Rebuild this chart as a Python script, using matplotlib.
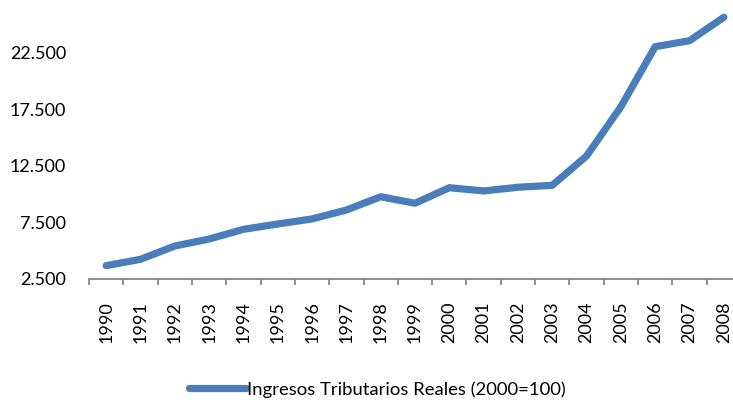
import matplotlib
matplotlib.use("Agg")
import matplotlib.pyplot as plt
import numpy as np
from matplotlib.ticker import FixedLocator, FuncFormatter

# --- data ---
years = [str(y) for y in range(1990, 2009)]
ingresos = [3640, 4200, 5380, 6000, 6860, 7330, 7780, 8570, 9750, 9170,
            10550, 10260, 10590, 10760, 13360, 17730, 23050, 23580, 25660]
y_ticks = [2500, 7500, 12500, 17500, 22500]
series_label = "Ingresos Tributarios Reales (2000=100)"

plt.rcParams['font.family'] = ['Lato', 'DejaVu Sans']

W, H = 733, 400
fig = plt.figure(figsize=(W / 100, H / 100), dpi=100)

# plot area runs a little past the right and top edges, as in the reference
left, right = 89, 741
bottom, top = 278.5, -3.5
ax = fig.add_axes([left / W, (H - bottom) / H, (right - left) / W, (bottom - top) / H])

x = np.arange(len(years))
ax.plot(x, ingresos, color='#4A7EBB', linewidth=5.2, solid_capstyle='round',
        solid_joinstyle='round', label=series_label, clip_on=False)

ax.set_xlim(-0.5, len(years) - 0.5)
ax.set_ylim(2500, 27500)

for s in ['top', 'right', 'left']:
    ax.spines[s].set_visible(False)
ax.spines['bottom'].set_color('#868686')
ax.spines['bottom'].set_linewidth(1.3)

ax.set_xticks(x)
ax.set_xticklabels(years, rotation=90, fontsize=13, va='top', ha='center')
ax.xaxis.set_minor_locator(FixedLocator(np.arange(-0.5, len(years), 1.0)))
ax.tick_params(axis='x', which='major', length=0, pad=16.5)
ax.tick_params(axis='x', which='minor', length=4.5, width=1.3, color='#868686', direction='out')

ax.set_yticks(y_ticks)
ax.yaxis.set_major_formatter(FuncFormatter(lambda v, p: f"{v:,.0f}".replace(',', '.')))
ax.tick_params(axis='y', length=0, pad=16.5, labelsize=13)

leg = fig.legend(loc='center', bbox_to_anchor=(377 / W, 10.5 / H), frameon=False,
                 fontsize=13.3, handlelength=3.1, handletextpad=0.05,
                 borderaxespad=0, borderpad=0)
for h in leg.get_lines():
    h.set_solid_capstyle('round')

fig.savefig('out.png', dpi=100)
